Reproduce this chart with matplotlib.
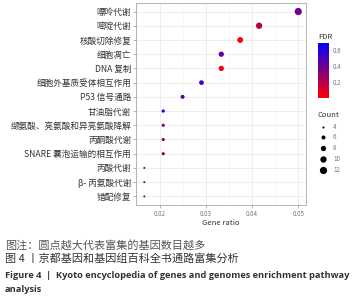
import numpy as np
import matplotlib.pyplot as plt
from matplotlib.colors import LinearSegmentedColormap, Normalize
from matplotlib.lines import Line2D

plt.rcParams['font.family'] = ['Noto Sans CJK SC', 'DejaVu Sans']

pathways = ["嘌呤代谢", "嘧啶代谢", "核酸切除修复", "细胞凋亡", "DNA 复制",
            "细胞外基质受体相互作用", "P53 信号通路", "甘油脂代谢",
            "缬氨酸、亮氨酸和异亮氨酸降解", "丙酮酸代谢", "SNARE 囊泡运输的相互作用",
            "丙酸代谢", "β- 丙氨酸代谢", "错配修复"]
gene_ratio = [0.050, 0.0415, 0.0374, 0.0333, 0.0333, 0.029, 0.0249,
              0.0207, 0.0207, 0.0207, 0.0207, 0.0166, 0.0166, 0.0166]
counts = [12, 10, 9, 8, 8, 7, 6, 5, 5, 5, 5, 4, 4, 4]
fdr = [0.38, 0.18, 0.02, 0.42, 0.03, 0.52, 0.45, 0.68, 0.35, 0.30, 0.30, 0.35, 0.35, 0.35]
legend_counts = [4, 6, 8, 10, 12]

cmap = LinearSegmentedColormap.from_list("rb", ["#ff0000", "#0000ff"])
norm = Normalize(0, 0.69)

def sz(c):
    return 2.2 + 3.1 * (np.asarray(c) - 4)

fig = plt.figure(figsize=(3.58, 3.0), dpi=100)
ax = fig.add_axes([0.380, 0.317, 0.475, 0.673])

y = np.arange(len(pathways))[::-1]
ax.scatter(gene_ratio, y, s=sz(counts), c=fdr, cmap=cmap, norm=norm, zorder=3, linewidths=0)

ax.set_ylim(-0.6, len(pathways) - 0.4)
ax.set_xlim(0.0148, 0.0517)
ax.set_yticks(y)
ax.set_yticklabels(pathways, fontsize=6.2, color='#333333')
ax.set_xticks([0.02, 0.03, 0.04, 0.05])
ax.set_xticklabels(['0.02', '0.03', '0.04', '0.05'], fontsize=4.5, color='#777777')
ax.set_xticks([0.015, 0.025, 0.035, 0.045], minor=True)
ax.tick_params(which='major', length=2, width=0.5, color='#999999', pad=1.5)
ax.tick_params(which='minor', length=0)
ax.grid(which='major', color='#ebebeb', linewidth=0.6, zorder=0)
ax.grid(which='minor', axis='x', color='#f4f4f4', linewidth=0.4, zorder=0)
ax.set_axisbelow(True)
for sp in ax.spines.values():
    sp.set_color('#aaaaaa')
    sp.set_linewidth(0.6)
ax.set_xlabel('Gene ratio', fontsize=5.5, color='#333333', labelpad=1)

# FDR colorbar
cax = fig.add_axes([318 / 358, 1 - 98 / 300, 11 / 358, 55 / 300])
cb = fig.colorbar(plt.cm.ScalarMappable(norm=norm, cmap=cmap), cax=cax)
cb.set_ticks([0.2, 0.4, 0.6])
cb.ax.tick_params(labelsize=4.5, labelcolor='#777777', length=0, pad=3)
cb.outline.set_visible(False)
fig.text(318 / 358, 1 - 37 / 300, 'FDR', fontsize=5.5, color='#333333', va='center')

# Count legend
fig.text(317 / 358, 1 - 115 / 300, 'Count', fontsize=5.5, color='#333333', va='center')
ly = [127, 137.5, 148, 159, 170]
for c, yy in zip(legend_counts, ly):
    fig.add_artist(Line2D([323 / 358], [1 - yy / 300], marker='o', linestyle='none',
                          markersize=np.sqrt(sz(c)), color='black',
                          markeredgewidth=0, transform=fig.transFigure))
    fig.text(333 / 358, 1 - yy / 300, str(c), fontsize=4.5, color='#777777', va='center')

# caption
fig.text(5 / 358, 1 - 245 / 300, '图注：圆点越大代表富集的基因数目越多', fontsize=8,
         color='#555555', va='center')
fig.text(5 / 358, 1 - 258 / 300, '图 4 丨京都基因和基因组百科全书通路富集分析', fontsize=8,
         color='#333333', va='center')
fig.text(5 / 358, 1 - 276 / 300,
         'Figure 4  |  Kyoto encyclopedia of genes and genomes enrichment pathway',
         fontsize=6.7, fontweight='bold', color='#333333', va='center',
         family=['Open Sans', 'DejaVu Sans'])
fig.text(5 / 358, 1 - 290 / 300, 'analysis', fontsize=6.7, fontweight='bold',
         color='#333333', va='center', family=['Open Sans', 'DejaVu Sans'])

fig.savefig('out.png', dpi=100)
